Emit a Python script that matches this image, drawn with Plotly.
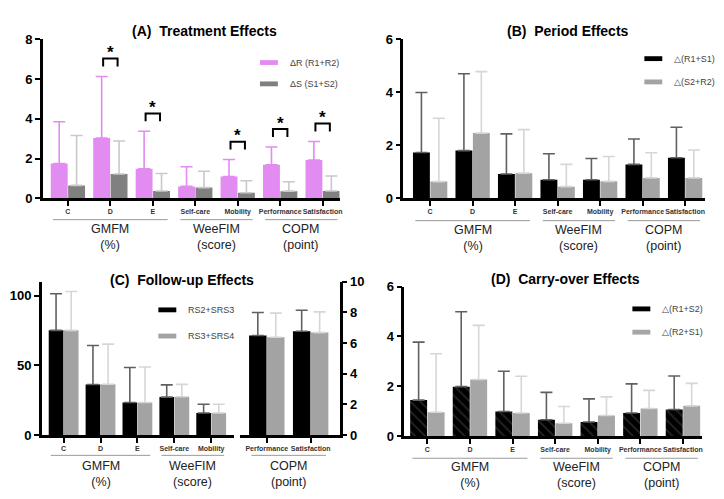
import plotly.graph_objects as go

# ===============================================================
# Data
# ===============================================================

W, H = 724, 499

measures = ["C", "D", "E", "Self-care", "Mobility", "Performance", "Satisfaction"]
groups = [("GMFM<br>(%)", 0, 2), ("WeeFIM<br>(score)", 3, 4), ("COPM<br>(point)", 5, 6)]

# (A) Treatment effects
treat_r_mean = [1.75, 3.03, 1.49, 0.60, 1.10, 1.69, 1.93]
treat_r_sd = [2.10, 3.10, 1.88, 0.99, 0.85, 0.89, 0.93]
treat_s_mean = [0.65, 1.22, 0.37, 0.54, 0.28, 0.36, 0.37]
treat_s_sd = [2.51, 1.66, 0.88, 0.82, 0.60, 0.47, 0.75]
significant = ["D", "E", "Mobility", "Performance", "Satisfaction"]

# (B) Period effects
period_1_mean = [1.73, 1.80, 0.92, 0.70, 0.70, 1.28, 1.53]
period_1_sd = [2.26, 2.90, 1.51, 0.98, 0.80, 0.96, 1.15]
period_2_mean = [0.63, 2.46, 0.95, 0.44, 0.64, 0.77, 0.77]
period_2_sd = [2.39, 2.32, 1.64, 0.84, 0.94, 0.95, 1.05]

# (C) Follow-up effects (GMFM/WeeFIM on left axis, COPM on right axis)
follow_left = ["C", "D", "E", "Self-care", "Mobility"]
follow_right = ["Performance", "Satisfaction"]
follow_1_left_mean = [75.1, 36.2, 23.3, 27.2, 15.8]
follow_1_left_sd = [26.3, 28.0, 25.1, 8.8, 6.3]
follow_2_left_mean = [75.1, 36.4, 23.3, 27.4, 15.8]
follow_2_left_sd = [27.9, 28.8, 25.5, 8.9, 6.3]
follow_1_right_mean = [6.49, 6.77]
follow_1_right_sd = [1.50, 1.37]
follow_2_right_mean = [6.38, 6.68]
follow_2_right_sd = [1.57, 1.35]

# (D) Carry-over effects
carry_1_mean = [1.44, 1.98, 0.98, 0.65, 0.56, 0.92, 1.06]
carry_1_sd = [2.33, 3.01, 1.62, 1.10, 0.93, 1.17, 1.35]
carry_2_mean = [0.95, 2.27, 0.92, 0.51, 0.82, 1.10, 1.21]
carry_2_sd = [2.35, 2.17, 1.48, 0.67, 0.75, 0.73, 0.90]

# ===============================================================
# Helpers
# ===============================================================

PINK = "#E28BF1"
FONT = "Liberation Sans, Arial, sans-serif"


def px(x):
    return x / W


def py(y):
    return 1 - y / H


def bar(x, y, sd, color, err_color, xa, ya, pattern=None):
    marker = dict(color=color, line=dict(width=0))
    if pattern:
        marker["pattern"] = pattern
    return go.Bar(
        x=x,
        y=y,
        marker=marker,
        error_y=dict(
            type="data",
            array=sd,
            arrayminus=[0] * len(sd),
            symmetric=False,
            color=err_color,
            thickness=1.6,
            width=6,
        ),
        xaxis=xa,
        yaxis=ya,
        showlegend=False,
        hoverinfo="x+y",
    )


def xaxis_style(domain, anchor, rng, cats):
    return dict(
        domain=domain,
        anchor=anchor,
        type="category",
        categoryorder="array",
        categoryarray=cats,
        range=rng,
        showline=True,
        linecolor="black",
        linewidth=2.5,
        ticks="outside",
        ticklen=5,
        tickwidth=2,
        tickcolor="black",
        tickangle=0,
        tickfont=dict(family=FONT, size=7, color="#333", weight="bold"),
        showgrid=False,
        zeroline=False,
    )


def yaxis_style(domain, anchor, rng, vals, side="left"):
    return dict(
        domain=domain,
        anchor=anchor,
        side=side,
        range=rng,
        tickvals=vals,
        showline=True,
        linecolor="black",
        linewidth=2.5,
        ticks="outside",
        ticklen=5,
        tickwidth=2,
        tickcolor="black",
        tickfont=dict(family=FONT, size=13, color="black", weight="bold"),
        showgrid=False,
        zeroline=False,
    )


shapes = []
annotations = []


def add_title(text, x, y):
    annotations.append(
        dict(
            text=f"<b>{text}</b>", x=px(x), y=py(y), xref="paper", yref="paper",
            showarrow=False, xanchor="center", yanchor="middle",
            font=dict(family=FONT, size=14, color="black"),
        )
    )


def add_groups(xref, line_y, text_y, grp=groups):
    for label, i0, i1 in grp:
        shapes.append(
            dict(
                type="line", xref=xref, yref="paper",
                x0=i0 - 0.35, x1=i1 + 0.35, y0=py(line_y), y1=py(line_y),
                line=dict(color="#9a9a9a", width=1),
            )
        )
        annotations.append(
            dict(
                text=label, x=(i0 + i1) / 2, y=py(text_y), xref=xref, yref="paper",
                showarrow=False, xanchor="center", yanchor="middle",
                font=dict(family=FONT, size=12.5, color="#222"),
            )
        )


def add_legend(x, ys, labels, colors):
    for y, label, color in zip(ys, labels, colors):
        shapes.append(
            dict(
                type="rect", xref="paper", yref="paper",
                x0=px(x), x1=px(x + 18), y0=py(y - 2.5), y1=py(y + 2.5),
                fillcolor=color, line=dict(width=0),
            )
        )
        annotations.append(
            dict(
                text=label, x=px(x + 28), y=py(y), xref="paper", yref="paper",
                showarrow=False, xanchor="left", yanchor="middle",
                font=dict(family=FONT, size=9, color="#444"),
            )
        )


# ===============================================================
# Figure
# ===============================================================

fig = go.Figure()

# (A)
fig.add_trace(bar(measures, treat_r_mean, treat_r_sd, PINK, PINK, "x", "y"))
fig.add_trace(bar(measures, treat_s_mean, treat_s_sd, "#808080", "#c9c9c9", "x", "y"))

# (B)
fig.add_trace(bar(measures, period_1_mean, period_1_sd, "black", "#606060", "x2", "y2"))
fig.add_trace(bar(measures, period_2_mean, period_2_sd, "#a3a3a3", "#d6d6d6", "x2", "y2"))

# (C)
fig.add_trace(bar(follow_left, follow_1_left_mean, follow_1_left_sd, "black", "#606060", "x3", "y3"))
fig.add_trace(bar(follow_left, follow_2_left_mean, follow_2_left_sd, "#a3a3a3", "#d6d6d6", "x3", "y3"))
fig.add_trace(bar(follow_right, follow_1_right_mean, follow_1_right_sd, "black", "#606060", "x4", "y4"))
fig.add_trace(bar(follow_right, follow_2_right_mean, follow_2_right_sd, "#a3a3a3", "#d6d6d6", "x4", "y4"))

# (D)
hatch = dict(shape="\\", fgcolor="#4a4a4a", bgcolor="black", size=7, solidity=0.25)
fig.add_trace(bar(measures, carry_1_mean, carry_1_sd, "black", "#606060", "x5", "y5", hatch))
fig.add_trace(bar(measures, carry_2_mean, carry_2_sd, "#a6a6a6", "#d6d6d6", "x5", "y5"))

# significance brackets in (A)
for name in significant:
    i = measures.index(name)
    top = max(treat_r_mean[i] + treat_r_sd[i], treat_s_mean[i] + treat_s_sd[i]) + 0.9
    shapes.append(
        dict(
            type="path", xref="x", yref="y",
            path=f"M{i - 0.17},{top - 0.4} L{i - 0.17},{top} L{i + 0.17},{top} L{i + 0.17},{top - 0.4}",
            line=dict(color="black", width=2),
        )
    )
    annotations.append(
        dict(
            text="<b>*</b>", x=i, y=top, xref="x", yref="y", showarrow=False,
            xanchor="center", yanchor="middle", yshift=6,
            font=dict(family=FONT, size=17, color="black"),
        )
    )

add_title("(A)  Treatment Effects", 197, 17)
add_title("(B)  Period Effects", 562, 17)
add_title("(C)  Follow-up Effects", 175, 273)
add_title("(D)  Carry-over Effects", 560, 272)

add_groups("x", 211, 229)
add_groups("x2", 212, 230)
add_groups("x3", 454, 473, [("GMFM<br>(%)", 0, 2), ("WeeFIM<br>(score)", 3, 4)])
add_groups("x4", 454, 473, [("COPM<br>(point)", 0, 1)])
add_groups("x5", 457, 474)

add_legend(253, [49, 71], ["\u0394R (R1+R2)", "\u0394S (S1+S2)"], [PINK, "#808080"])
add_legend(639, [45, 69], ["\u25b3(R1+S1)", "\u25b3(S2+R2)"], ["black", "#a3a3a3"])
add_legend(151, [304, 331], ["RS2+SRS3", "RS3+SRS4"], ["black", "#a3a3a3"])
add_legend(627, [303, 327], ["\u25b3(R1+S2)", "\u25b3(R2+S1)"], ["black", "#a6a6a6"])

fig.update_layout(
    width=W,
    height=H,
    margin=dict(l=0, r=0, t=0, b=0),
    paper_bgcolor="white",
    plot_bgcolor="white",
    barmode="group",
    bargap=0.18,
    bargroupgap=0.03,
    font=dict(family=FONT),
    shapes=shapes,
    annotations=annotations,
    xaxis=xaxis_style([px(35), px(333)], "y", [-0.59, 6.4], measures),
    yaxis=yaxis_style([py(189), py(25)], "x", [0, 8], [0, 2, 4, 6, 8]),
    xaxis2=xaxis_style([px(397), px(700)], "y2", [-0.63, 6.47], measures),
    yaxis2=yaxis_style([py(189), py(25)], "x2", [0, 6], [0, 2, 4, 6]),
    xaxis3=xaxis_style([px(34), px(227)], "y3", [-0.59, 4.62], follow_left),
    yaxis3=yaxis_style([py(433), py(275)], "x3", [0, 110], [0, 50, 100]),
    xaxis4=xaxis_style([px(233), px(333)], "y4", [-0.61, 1.66], follow_right),
    yaxis4=yaxis_style([py(433), py(275)], "x4", [0, 10], [0, 2, 4, 6, 8, 10], side="right"),
    xaxis5=xaxis_style([px(398), px(697)], "y5", [-0.54, 6.45], measures),
    yaxis5=yaxis_style([py(434), py(280)], "x5", [0, 6], [0, 2, 4, 6]),
)

fig.write_html("out.html")
